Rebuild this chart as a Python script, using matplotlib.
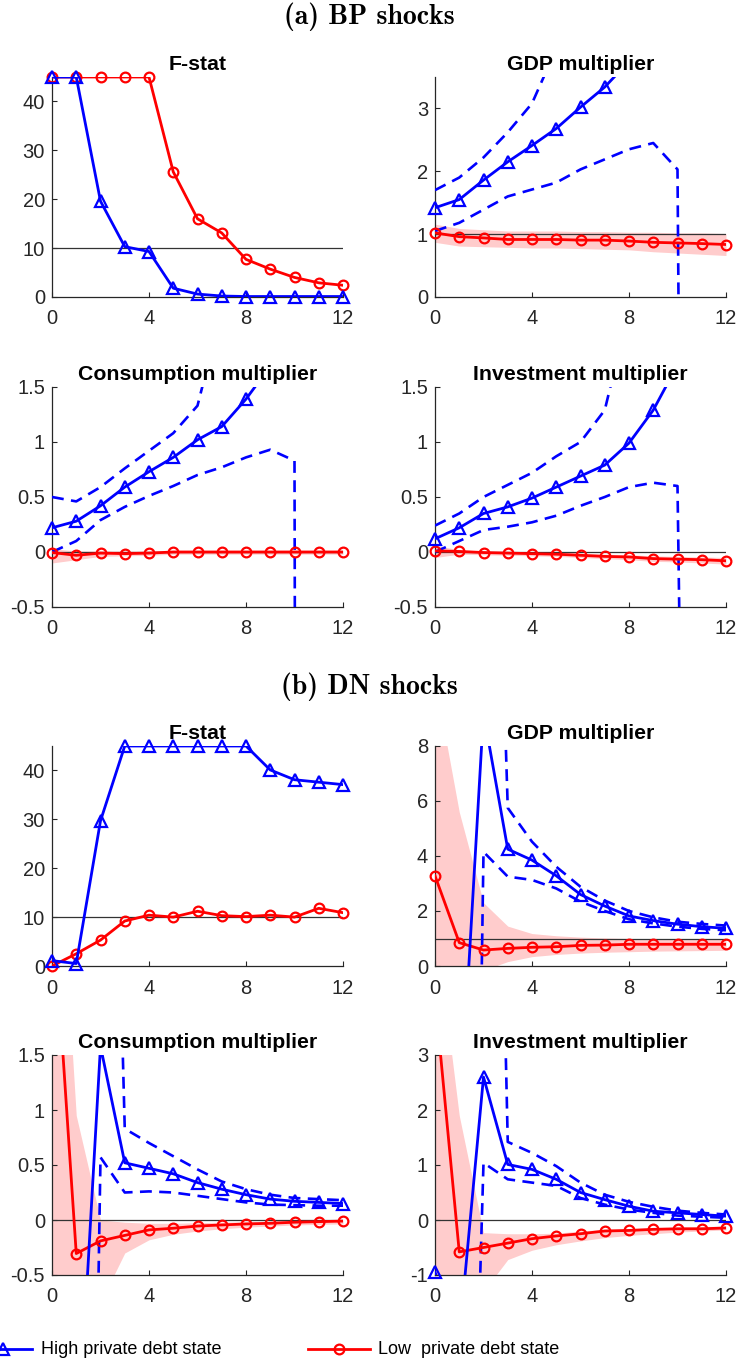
import numpy as np
import matplotlib
matplotlib.use("Agg")
import matplotlib.pyplot as plt
from matplotlib.lines import Line2D

plt.rcParams["font.family"] = ["Liberation Sans", "DejaVu Sans"]
plt.rcParams["axes.unicode_minus"] = False

horizon = np.arange(13)

# ---------------- BP shocks ----------------
bp_fstat_high = [45, 45, 19.6, 10.3, 9.3, 1.8, 0.6, 0.2, 0.1, 0.1, 0.1, 0.1, 0.1]
bp_fstat_low = [45, 45, 45, 45, 45, 25.6, 16.0, 13.1, 7.7, 5.7, 4.0, 2.9, 2.4]

bp_gdp_high = [1.42, 1.55, 1.86, 2.15, 2.41, 2.68, 3.02, 3.34, 3.75, 4.3, 4.9, 5.6, 6.4]
bp_gdp_high_up = [1.70, 1.90, 2.22, 2.62, 3.08, 3.95, 5.0, 6.5, 8.5, 12.0, 40.0, 60.0, 80.0]
bp_gdp_high_lo = [1.05, 1.18, 1.39, 1.60, 1.71, 1.82, 2.03, 2.19, 2.35, 2.45, 2.03, -48.0, -60.0]
bp_gdp_low = [1.02, 0.96, 0.94, 0.915, 0.915, 0.915, 0.905, 0.905, 0.89, 0.87, 0.86, 0.85, 0.835]
bp_gdp_low_up = [1.16, 1.09, 1.07, 1.05, 1.05, 1.05, 1.04, 1.04, 1.03, 1.03, 1.02, 1.02, 1.01]
bp_gdp_low_lo = [0.87, 0.81, 0.80, 0.79, 0.78, 0.78, 0.77, 0.76, 0.75, 0.72, 0.70, 0.68, 0.66]

bp_cons_high = [0.22, 0.28, 0.42, 0.59, 0.73, 0.86, 1.02, 1.14, 1.39, 1.69, 2.0, 2.4, 2.8]
bp_cons_high_up = [0.50, 0.46, 0.59, 0.76, 0.92, 1.08, 1.33, 2.2, 3.0, 4.0, 30.0, 40.0, 50.0]
bp_cons_high_lo = [0.0, 0.10, 0.29, 0.41, 0.51, 0.60, 0.70, 0.77, 0.86, 0.93, 0.83, -100.0, -120.0]
bp_cons_low = [-0.005, -0.03, -0.01, -0.015, -0.01, 0.0, 0.0, 0.0, 0.0, 0.0, 0.0, 0.0, 0.0]
bp_cons_low_up = [0.03, 0.01, 0.01, 0.01, 0.01, 0.015, 0.015, 0.015, 0.015, 0.015, 0.015, 0.015, 0.015]
bp_cons_low_lo = [-0.1, -0.07, -0.04, -0.035, -0.03, -0.02, -0.02, -0.02, -0.02, -0.02, -0.02, -0.02, -0.02]

bp_inv_high = [0.12, 0.22, 0.35, 0.41, 0.49, 0.59, 0.69, 0.79, 0.99, 1.29, 1.7, 2.2, 2.8]
bp_inv_high_up = [0.24, 0.35, 0.50, 0.61, 0.72, 0.87, 1.0, 1.29, 2.2, 4.0, 40.0, 50.0, 60.0]
bp_inv_high_lo = [0.0, 0.1, 0.2, 0.23, 0.27, 0.33, 0.42, 0.5, 0.59, 0.63, 0.6, -15.0, -20.0]
bp_inv_low = [0.01, 0.005, -0.005, -0.01, -0.015, -0.02, -0.03, -0.04, -0.045, -0.06, -0.065, -0.07, -0.08]
bp_inv_low_up = [0.06, 0.02, 0.01, 0.005, 0.0, -0.005, -0.01, -0.02, -0.025, -0.035, -0.04, -0.045, -0.05]
bp_inv_low_lo = [-0.05, -0.02, -0.025, -0.03, -0.035, -0.04, -0.05, -0.06, -0.07, -0.085, -0.09, -0.1, -0.11]

# ---------------- DN shocks ----------------
dn_fstat_high = [1.1, 0.5, 29.7, 45, 45, 45, 45, 45, 45, 40.1, 38.1, 37.6, 37.1]
dn_fstat_low = [0.0, 2.5, 5.3, 9.2, 10.4, 10.0, 11.2, 10.3, 10.1, 10.4, 10.0, 11.8, 10.9]

dn_gdp_high = [-5.0, -6.0, 9.2, 4.25, 3.85, 3.28, 2.6, 2.18, 1.82, 1.65, 1.52, 1.43, 1.37]
dn_gdp_high_up = [60.0, 60.0, 34.0, 5.75, 4.52, 3.61, 2.88, 2.38, 2.0, 1.77, 1.61, 1.53, 1.47]
dn_gdp_high_lo = [-60.0, -55.0, 4.15, 3.25, 3.13, 2.82, 2.34, 2.0, 1.70, 1.55, 1.43, 1.35, 1.30]
dn_gdp_low = [3.28, 0.85, 0.58, 0.64, 0.68, 0.70, 0.75, 0.76, 0.79, 0.79, 0.79, 0.79, 0.79]
dn_gdp_low_up = [10.4, 5.6, 2.3, 1.45, 1.18, 1.1, 1.05, 1.02, 1.0, 1.0, 0.99, 0.98, 0.98]
dn_gdp_low_lo = [-6.0, -3.0, -0.16, 0.16, 0.34, 0.42, 0.47, 0.5, 0.52, 0.54, 0.55, 0.56, 0.57]

dn_cons_high = [-2.0, -2.3, 1.58, 0.52, 0.47, 0.42, 0.34, 0.28, 0.23, 0.19, 0.17, 0.16, 0.15]
dn_cons_high_up = [12.0, 12.0, 9.2, 0.83, 0.70, 0.58, 0.46, 0.35, 0.28, 0.23, 0.20, 0.19, 0.18]
dn_cons_high_lo = [-14.0, -12.8, 0.57, 0.25, 0.26, 0.25, 0.22, 0.19, 0.16, 0.14, 0.135, 0.13, 0.13]
dn_cons_low = [3.0, -0.305, -0.19, -0.14, -0.09, -0.075, -0.055, -0.045, -0.036, -0.03, -0.02, -0.015, -0.01]
dn_cons_low_up = [4.5, 0.95, 0.0, -0.02, -0.03, -0.03, -0.025, -0.02, -0.015, -0.01, -0.005, 0.0, 0.0]
dn_cons_low_lo = [-3.0, -2.0, -0.75, -0.3, -0.18, -0.13, -0.1, -0.08, -0.065, -0.055, -0.045, -0.04, -0.035]

dn_inv_high = [-0.95, -2.14, 2.6, 1.01, 0.92, 0.74, 0.5, 0.37, 0.25, 0.16, 0.13, 0.10, 0.07]
dn_inv_high_up = [30.0, 30.0, 21.0, 1.42, 1.22, 0.98, 0.68, 0.46, 0.33, 0.24, 0.17, 0.13, 0.10]
dn_inv_high_lo = [-20.0, -14.0, 1.04, 0.74, 0.68, 0.62, 0.40, 0.28, 0.19, 0.13, 0.08, 0.06, 0.04]
dn_inv_low = [4.07, -0.58, -0.5, -0.42, -0.34, -0.29, -0.25, -0.2, -0.19, -0.17, -0.16, -0.16, -0.145]
dn_inv_low_up = [5.45, 1.9, -0.23, -0.25, -0.25, -0.24, -0.2, -0.17, -0.16, -0.14, -0.13, -0.12, -0.11]
dn_inv_low_lo = [-5.0, -4.0, -1.3, -0.72, -0.55, -0.45, -0.38, -0.32, -0.28, -0.25, -0.22, -0.2, -0.18]

panel_titles = ["F-stat", "GDP multiplier", "Consumption multiplier", "Investment multiplier"]
section_titles = ["(a) BP shocks", "(b) DN shocks"]
legend_labels = ["High private debt state", "Low  private debt state"]
x_ticks = [0, 4, 8, 12]

fstat_ticks = [0, 10, 20, 30, 40]
fstat_ticklabels = ["0", "10", "20", "30", "40"]
half_ticks = [-0.5, 0, 0.5, 1, 1.5]
half_ticklabels = ["-0.5", "0", "0.5", "1", "1.5"]

panels = [
    # (title, high, high_up, high_lo, low, low_up, low_lo, ylim, yticks, yticklabels, ref)
    (panel_titles[0], bp_fstat_high, None, None, bp_fstat_low, None, None,
     (0, 45), fstat_ticks, fstat_ticklabels, 10),
    (panel_titles[1], bp_gdp_high, bp_gdp_high_up, bp_gdp_high_lo, bp_gdp_low, bp_gdp_low_up, bp_gdp_low_lo,
     (0, 3.5), [0, 1, 2, 3], ["0", "1", "2", "3"], 1),
    (panel_titles[2], bp_cons_high, bp_cons_high_up, bp_cons_high_lo, bp_cons_low, bp_cons_low_up, bp_cons_low_lo,
     (-0.5, 1.5), half_ticks, half_ticklabels, 0),
    (panel_titles[3], bp_inv_high, bp_inv_high_up, bp_inv_high_lo, bp_inv_low, bp_inv_low_up, bp_inv_low_lo,
     (-0.5, 1.5), half_ticks, half_ticklabels, 0),
    (panel_titles[0], dn_fstat_high, None, None, dn_fstat_low, None, None,
     (0, 45), fstat_ticks, fstat_ticklabels, 10),
    (panel_titles[1], dn_gdp_high, dn_gdp_high_up, dn_gdp_high_lo, dn_gdp_low, dn_gdp_low_up, dn_gdp_low_lo,
     (0, 8), [0, 2, 4, 6, 8], ["0", "2", "4", "6", "8"], 1),
    (panel_titles[2], dn_cons_high, dn_cons_high_up, dn_cons_high_lo, dn_cons_low, dn_cons_low_up, dn_cons_low_lo,
     (-0.5, 1.5), half_ticks, half_ticklabels, 0),
    (panel_titles[3], dn_inv_high, dn_inv_high_up, dn_inv_high_lo, dn_inv_low, dn_inv_low_up, dn_inv_low_lo,
     (-1, 3), [-1, 0, 1, 2, 3], ["-1", "0", "1", "2", "3"], 0),
]

W, H = 738, 1368
fig = plt.figure(figsize=(W / 100, H / 100), dpi=100)

col_left = [52, 435]
ax_width = 291
row_top = [77, 387, 746, 1055]
ax_height = 220

BLUE = "#0000ff"
RED = "#ff0000"
BAND = "#ffcccc"
AXCOL = "#262626"
DASH = (0, (4.5, 2.8))


def draw_series(ax, y, color, marker, ms, ylim, z):
    """Line clipped to the axes; markers drawn whole for points inside the limits."""
    y = np.asarray(y, dtype=float)
    ax.plot(horizon, y, color=color, lw=2.0, zorder=z)
    inside = (y >= ylim[0] - 1e-9) & (y <= ylim[1] + 1e-9)
    ax.plot(horizon[inside], y[inside], ls="none", marker=marker, ms=ms,
            mfc="none", mec=color, mew=1.6, zorder=z, clip_on=False)


for i, (title, hi, hi_up, hi_lo, lo, lo_up, lo_lo, ylim, yt, ytl, ref) in enumerate(panels):
    r, c = divmod(i, 2)
    left = col_left[c] / W
    bottom = 1 - (row_top[r] + ax_height) / H
    ax = fig.add_axes([left, bottom, ax_width / W, ax_height / H])

    if lo_up is not None:
        ax.fill_between(horizon, lo_lo, lo_up, color=BAND, lw=0, zorder=1)
    ax.axhline(ref, color="#333333", lw=0.9, zorder=2)

    draw_series(ax, lo, RED, "o", 7, ylim, 4)
    if hi_up is not None:
        ax.plot(horizon, hi_up, color=BLUE, lw=1.9, ls=DASH, zorder=3)
        ax.plot(horizon, hi_lo, color=BLUE, lw=1.9, ls=DASH, zorder=3)
    draw_series(ax, hi, BLUE, "^", 9, ylim, 5)

    ax.set_xlim(0, 12)
    ax.set_ylim(*ylim)
    ax.set_xticks(x_ticks)
    ax.set_xticklabels([str(t) for t in x_ticks])
    ax.set_yticks(yt)
    ax.set_yticklabels(ytl)
    for s in ["top", "right"]:
        ax.spines[s].set_visible(False)
    for s in ["left", "bottom"]:
        ax.spines[s].set_color(AXCOL)
        ax.spines[s].set_linewidth(0.9)
    ax.tick_params(direction="in", length=3.5, width=0.8, color=AXCOL,
                   labelcolor=AXCOL, labelsize=14.5)
    ax.tick_params(axis="x", pad=9)
    ax.tick_params(axis="y", pad=5)
    ax.set_title(title, fontsize=15.3, fontweight="bold", pad=5)

fig.text(0.5, 1 - 17 / H, section_titles[0], ha="center", va="center",
         fontsize=20, family=["cmb10", "DejaVu Serif"])
fig.text(0.5, 1 - 687 / H, section_titles[1], ha="center", va="center",
         fontsize=20, family=["cmb10", "DejaVu Serif"])

# Legend row along the bottom edge
lax = fig.add_axes([0, 0, 1, 60 / H])
lax.set_xlim(0, W)
lax.set_ylim(0, 60)
lax.axis("off")
ly = 19
lax.add_line(Line2D([-10, 32], [ly, ly], color=BLUE, lw=2.0))
lax.add_line(Line2D([3], [ly], color=BLUE, marker="^", ms=9, mfc="none", mew=1.6))
lax.text(41, ly, legend_labels[0], ha="left", va="center", fontsize=13, color="black")
lax.add_line(Line2D([308, 370], [ly, ly], color=RED, lw=2.0))
lax.add_line(Line2D([339], [ly], color=RED, marker="o", ms=7, mfc="none", mew=1.6))
lax.text(378, ly, legend_labels[1], ha="left", va="center", fontsize=13, color="black")

fig.savefig("out.png", dpi=100)
